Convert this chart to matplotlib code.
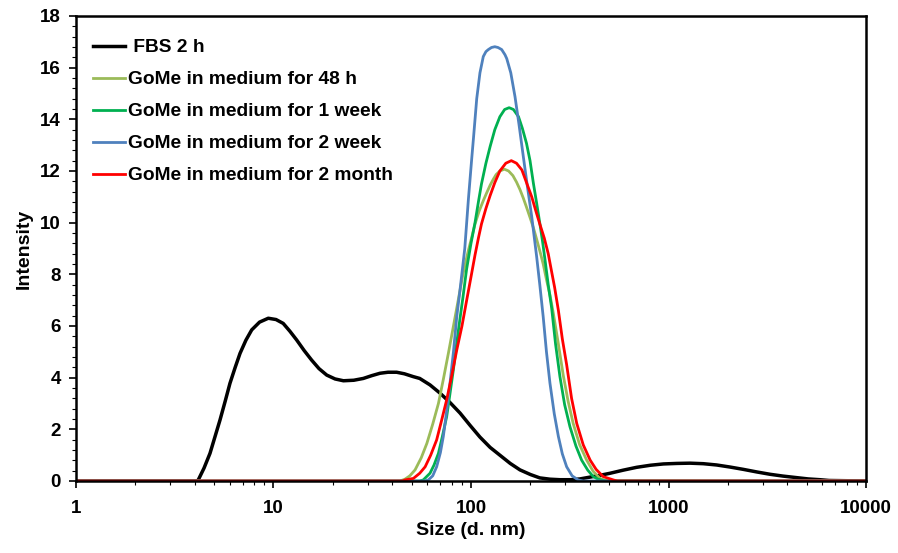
import numpy as np
import matplotlib.pyplot as plt
from matplotlib.ticker import MultipleLocator, LogLocator, NullFormatter

plt.rcParams['font.family'] = ['Liberation Sans', 'DejaVu Sans']
plt.rcParams['font.weight'] = 'bold'

# values (size in d.nm, intensity)
fbs_x = [1, 4.1, 4.16, 4.45, 4.77, 5.05, 5.36, 5.7, 6.02, 6.4, 6.77, 7.25, 7.76, 8.5, 9.41,
         10.3, 11.2, 12.1, 13.1, 14.3, 15.6, 17, 18.6, 20.5, 22.6, 25.5, 28.5, 31.5, 34.6,
         38, 42, 46, 51, 55, 62, 69.7, 78, 88, 99, 111, 125, 140, 158, 177, 200, 223, 251,
         282, 320, 356, 400, 450, 506, 590, 690, 810, 942, 1100, 1285, 1500, 1753, 2050,
         2393, 2800, 3266, 3800, 4457, 5100, 5850, 6500, 10000]
fbs_y = [0, 0, 0.04, 0.5, 1.07, 1.7, 2.36, 3.1, 3.78, 4.4, 4.94, 5.45, 5.85, 6.15, 6.3,
         6.25, 6.1, 5.8, 5.46, 5.05, 4.68, 4.35, 4.1, 3.95, 3.88, 3.9, 3.97, 4.08, 4.17,
         4.21, 4.21, 4.15, 4.04, 3.97, 3.72, 3.4, 3.05, 2.63, 2.15, 1.7, 1.3, 1.0, 0.68, 0.43,
         0.25, 0.12, 0.07, 0.05, 0.05, 0.08, 0.15, 0.22, 0.3, 0.42, 0.53, 0.61, 0.66, 0.68,
         0.69, 0.67, 0.62, 0.54, 0.45, 0.35, 0.26, 0.19, 0.13, 0.08, 0.05, 0.02, 0]

h48_x = [1, 43.7, 46.3, 49, 52.1, 56, 59.8, 64, 68.4, 72.5, 76.8, 81.5, 86.4, 91, 96.8, 101,
         104.8, 110, 115.4, 120, 125, 129.7, 134, 140, 147.5, 155, 163, 170, 177, 184, 191,
         199, 207, 216, 225, 232, 241, 251, 261, 277, 293, 310, 329, 355, 385, 415, 450,
         480, 10000]
h48_y = [0, 0, 0.07, 0.2, 0.43, 0.9, 1.46, 2.2, 3.0, 3.95, 4.94, 6.0, 7.05, 8.0, 8.9, 9.45,
         9.95, 10.45, 10.85, 11.15, 11.45, 11.68, 11.86, 12.0, 12.07, 12.0, 11.82, 11.57,
         11.28, 10.95, 10.6, 10.2, 9.8, 9.3, 8.8, 8.4, 7.8, 7.2, 6.5, 5.3, 4.1, 3.1, 2.23,
         1.4, 0.81, 0.38, 0.1, 0.02, 0]

w1_x = [1, 55, 57.3, 62, 65, 68.4, 71.5, 75.3, 78, 81.4, 84.5, 88, 91, 95, 100, 104.8, 109,
        113, 119, 125, 132, 140, 148, 156, 164, 174, 182, 191, 199, 207, 215, 223, 230, 237,
        246, 256, 268, 282, 298, 317, 340, 363, 390, 416, 440, 467, 490, 10000]
w1_y = [0, 0, 0.04, 0.3, 0.62, 1.07, 1.7, 2.49, 3.3, 4.3, 5.3, 6.3, 7.1, 8.2, 9.2, 10.0, 10.8,
        11.5, 12.3, 12.95, 13.6, 14.1, 14.38, 14.45, 14.38, 14.1, 13.65, 13.07, 12.4, 11.52,
        10.75, 9.98, 9.3, 8.56, 7.6, 6.7, 5.3, 4.04, 2.95, 2.1, 1.35, 0.81, 0.42, 0.17, 0.07,
        0.02, 0, 0]

w2_x = [1, 58, 60.8, 64, 67, 70, 72.4, 75, 78.3, 81.5, 84.7, 88, 93, 97, 100.9, 103, 106.9,
        111, 115.4, 119, 122.4, 127, 132, 137, 143, 148.6, 151.7, 159, 167, 175, 184, 193,
        203, 215, 223, 232, 241, 251, 264, 277, 290, 305, 325, 349, 370, 10000]
w2_y = [0, 0, 0.04, 0.2, 0.55, 1.1, 1.72, 2.6, 3.79, 5.0, 6.36, 7.4, 9.0, 10.9, 12.5, 13.3,
        14.8, 15.8, 16.43, 16.62, 16.7, 16.78, 16.81, 16.78, 16.7, 16.5, 16.35, 15.8, 14.88,
        13.8, 12.56, 11.4, 10.23, 8.68, 7.6, 6.36, 5.0, 3.79, 2.6, 1.72, 1.05, 0.55, 0.2,
        0.04, 0, 0]

m2_x = [1, 45, 46.3, 51.1, 55, 58.6, 62.5, 67, 71, 75.3, 80, 84.7, 90, 95.1, 100, 104.8,
        109, 113, 119, 125, 132, 140, 150, 160, 170, 181, 191, 203, 213, 223, 235, 246, 256,
        265, 277, 290, 305, 323, 343, 370, 401, 430, 467, 526, 550, 10000]
m2_y = [0, 0, 0.04, 0.1, 0.3, 0.55, 1.0, 1.59, 2.35, 3.14, 4.1, 5.07, 6.0, 7.0, 7.9, 8.75,
        9.4, 9.95, 10.55, 11.05, 11.55, 12.0, 12.3, 12.4, 12.3, 12.04, 11.55, 11.0, 10.45,
        9.95, 9.4, 8.8, 8.1, 7.5, 6.6, 5.5, 4.5, 3.2, 2.23, 1.4, 0.81, 0.45, 0.17, 0.04, 0, 0]

series = [
    (fbs_x, fbs_y, 'black', ' FBS 2 h', 2.5),
    (h48_x, h48_y, '#9BBB59', 'GoMe in medium for 48 h', 2.0),
    (w1_x, w1_y, '#00B050', 'GoMe in medium for 1 week', 2.0),
    (w2_x, w2_y, '#4F81BD', 'GoMe in medium for 2 week', 2.0),
    (m2_x, m2_y, '#FF0000', 'GoMe in medium for 2 month', 2.0),
]

fig = plt.figure(figsize=(8.98, 5.53), dpi=100)
ax = fig.add_axes([0.0846, 0.1302, 0.8798, 0.8409])

for xs, ys, c, lab, lw in series:
    ax.plot(xs, ys, color=c, lw=lw, label=lab, solid_joinstyle='round')

ax.set_xscale('log')
ax.set_xlim(1, 10000)
ax.set_ylim(0, 18)
ax.set_xticks([1, 10, 100, 1000, 10000])
ax.set_xticklabels(['1', '10', '100', '1000', '10000'])
ax.xaxis.set_minor_locator(LogLocator(base=10, subs=np.arange(2, 10)))
ax.xaxis.set_minor_formatter(NullFormatter())
ax.yaxis.set_major_locator(MultipleLocator(2))
ax.yaxis.set_minor_locator(MultipleLocator(0.4))

for s in ax.spines.values():
    s.set_linewidth(1.8)
ax.tick_params(which='major', direction='out', length=5, width=1.2, labelsize=13.5, pad=6)
ax.tick_params(axis='x', which='major', pad=9)
ax.tick_params(which='minor', direction='out', length=3, width=0.8)
for t in ax.get_xticklabels() + ax.get_yticklabels():
    t.set_fontweight('bold')

ax.set_xlabel('Size (d. nm)', fontsize=14, fontweight='bold', labelpad=3)
ax.set_ylabel('Intensity', fontsize=14, fontweight='bold', labelpad=5)

ax.legend(loc='upper left', bbox_to_anchor=(-0.008, 1.0), frameon=False,
          handlelength=1.7, handletextpad=0.16, labelspacing=0.76,
          borderaxespad=0.75, borderpad=0.45,
          prop={'weight': 'bold', 'size': 13.8})

plt.savefig('out.png', dpi=100)
